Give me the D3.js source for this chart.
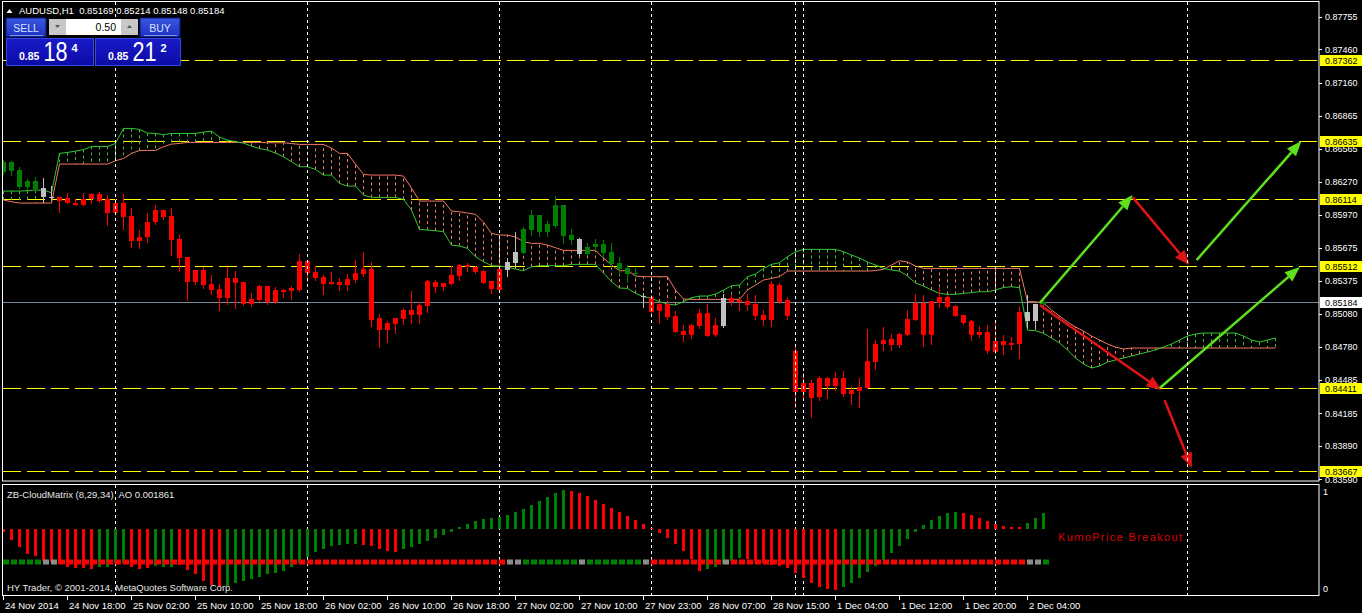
<!DOCTYPE html>
<html><head><meta charset="utf-8">
<script src="https://cdn.jsdelivr.net/npm/d3@7"></script>
<style>
html,body{margin:0;padding:0;background:#000;overflow:hidden}
svg{display:block}
text{font-family:'Liberation Sans',Arial,sans-serif}
</style></head><body>
<svg id="c" width="1362" height="613"></svg>
<script>
// ---------- DATA ----------
const symbolTitle = "AUDUSD,H1  0.85169 0.85214 0.85148 0.85184";
const indicatorTitle = "ZB-CloudMatrix (8,29,34)  AO 0.001861";
const copyrightText = "HY Trader, \u00A9 2001-2014, MetaQuotes Software Corp.";
const signalText = "KumoPrice Breakout";

const open = [0.86356,0.86365,0.86224,0.86224,0.86203,0.86209,0.86136,0.86131,0.86119,0.86077,0.86110,0.86158,0.86158,0.86110,0.86077,0.86077,0.85960,0.85774,0.85906,0.86014,0.86017,0.85960,0.85753,0.85591,0.85474,0.85474,0.85348,0.85303,0.85402,0.85402,0.85366,0.85213,0.85333,0.85330,0.85294,0.85294,0.85315,0.85555,0.85555,0.85456,0.85411,0.85366,0.85366,0.85393,0.85447,0.85483,0.85483,0.85042,0.84997,0.85042,0.85114,0.85114,0.85159,0.85375,0.85366,0.85357,0.85429,0.85519,0.85522,0.85501,0.85465,0.85375,0.85483,0.85477,0.85540,0.85630,0.85837,0.85819,0.85819,0.85873,0.86059,0.85789,0.85753,0.85621,0.85681,0.85708,0.85636,0.85537,0.85492,0.85447,0.85240,0.85231,0.85171,0.85168,0.85060,0.84925,0.84979,0.85087,0.85087,0.84979,0.84970,0.85222,0.85204,0.85195,0.85168,0.85069,0.85024,0.85339,0.85204,0.84745,0.84457,0.84457,0.84331,0.84502,0.84502,0.84502,0.84397,0.84421,0.84412,0.84649,0.84811,0.84799,0.84799,0.84889,0.85027,0.85177,0.84889,0.85177,0.85231,0.85150,0.85069,0.85015,0.84916,0.84916,0.84739,0.84835,0.84820,0.84811,0.85018,0.85018,0.85169];
const high = [0.86464,0.86458,0.86401,0.86290,0.86308,0.86299,0.86230,0.86131,0.86164,0.86110,0.86164,0.86170,0.86176,0.86149,0.86110,0.86158,0.86032,0.85834,0.85987,0.86056,0.86017,0.86032,0.85786,0.85591,0.85474,0.85504,0.85429,0.85348,0.85504,0.85465,0.85366,0.85264,0.85342,0.85330,0.85318,0.85300,0.85330,0.85618,0.85555,0.85510,0.85429,0.85456,0.85402,0.85438,0.85567,0.85636,0.85546,0.85078,0.85015,0.85042,0.85132,0.85285,0.85186,0.85384,0.85384,0.85357,0.85513,0.85528,0.85537,0.85510,0.85471,0.85375,0.85546,0.85582,0.85816,0.85858,0.86014,0.85969,0.85915,0.86140,0.86059,0.85843,0.85762,0.85717,0.85753,0.85744,0.85717,0.85594,0.85519,0.85492,0.85264,0.85231,0.85183,0.85189,0.85105,0.84979,0.84988,0.85123,0.85168,0.85042,0.85258,0.85258,0.85222,0.85258,0.85249,0.85114,0.85375,0.85357,0.85228,0.84799,0.84547,0.84484,0.84520,0.84511,0.84556,0.84565,0.84430,0.84502,0.84943,0.84844,0.84961,0.84898,0.84907,0.85117,0.85258,0.85249,0.85195,0.85312,0.85249,0.85159,0.85069,0.85027,0.84970,0.84979,0.85015,0.84889,0.84871,0.85141,0.85249,0.85168,0.85214];
const low = [0.86338,0.86329,0.86212,0.86206,0.86194,0.86089,0.86113,0.85999,0.86074,0.86062,0.86062,0.86080,0.86089,0.85879,0.85984,0.85843,0.85684,0.85675,0.85729,0.85888,0.85930,0.85609,0.85468,0.85204,0.85348,0.85315,0.85258,0.85114,0.85171,0.85135,0.85159,0.85153,0.85198,0.85171,0.85177,0.85231,0.85213,0.85288,0.85378,0.85384,0.85261,0.85351,0.85297,0.85297,0.85369,0.85423,0.84973,0.84784,0.84829,0.84910,0.84991,0.85000,0.85000,0.85099,0.85279,0.85297,0.85342,0.85387,0.85468,0.85447,0.85354,0.85270,0.85291,0.85423,0.85504,0.85624,0.85792,0.85783,0.85783,0.85864,0.85720,0.85711,0.85612,0.85612,0.85657,0.85594,0.85504,0.85438,0.85369,0.85414,0.85141,0.85075,0.85000,0.85033,0.84916,0.84838,0.84862,0.84952,0.84880,0.84880,0.84961,0.85159,0.85114,0.85114,0.85033,0.84979,0.84970,0.85177,0.85036,0.84244,0.84334,0.84154,0.84307,0.84325,0.84394,0.84343,0.84271,0.84244,0.84412,0.84586,0.84757,0.84757,0.84784,0.84889,0.85027,0.84793,0.84811,0.85141,0.85135,0.85063,0.84991,0.84847,0.84874,0.84730,0.84727,0.84721,0.84766,0.84685,0.84964,0.84955,0.85148];
const close = [0.86446,0.86449,0.86374,0.86275,0.86275,0.86134,0.86127,0.86095,0.86074,0.86062,0.86062,0.86110,0.86098,0.85989,0.85987,0.85954,0.85738,0.85738,0.85771,0.85909,0.85951,0.85747,0.85585,0.85369,0.85369,0.85342,0.85297,0.85225,0.85225,0.85357,0.85171,0.85171,0.85207,0.85189,0.85189,0.85276,0.85285,0.85294,0.85450,0.85405,0.85351,0.85351,0.85339,0.85339,0.85387,0.85438,0.85027,0.84937,0.84937,0.84991,0.85033,0.85072,0.85072,0.85153,0.85324,0.85324,0.85351,0.85423,0.85501,0.85456,0.85360,0.85306,0.85297,0.85546,0.85636,0.85843,0.85969,0.85969,0.85888,0.86059,0.85783,0.85747,0.85621,0.85681,0.85708,0.85630,0.85528,0.85483,0.85438,0.85438,0.85231,0.85099,0.85105,0.85051,0.84916,0.84889,0.84889,0.84970,0.84880,0.84889,0.85222,0.85189,0.85186,0.85159,0.85060,0.85024,0.85348,0.85186,0.85063,0.84379,0.84376,0.84325,0.84502,0.84430,0.84430,0.84361,0.84361,0.84388,0.84655,0.84808,0.84844,0.84853,0.84898,0.85033,0.85177,0.84889,0.85195,0.85231,0.85141,0.85063,0.85000,0.84892,0.84892,0.84748,0.84835,0.84802,0.84802,0.85096,0.85096,0.85168,0.85184];
// g = green, r = red, s = silver (cloud-matrix state per bar)
const candleState = ["g","g","g","g","g","s","s","r","r","r","r","r","r","r","r","r","r","r","r","r","r","r","r","r","r","r","r","r","r","r","r","r","r","r","r","r","r","r","r","r","r","r","r","r","r","r","r","r","r","r","r","r","r","r","r","r","r","r","r","r","r","r","r","s","s","g","g","g","g","g","g","g","s","g","g","g","g","g","g","g","s","r","r","r","r","r","r","r","r","r","s","r","r","r","r","r","r","r","r","r","r","r","r","r","r","r","r","r","r","r","r","r","r","r","r","r","r","r","r","r","r","r","r","r","r","r","r","r","s","s","g"];

const spanA = [0.86185,0.86185,0.86185,0.86189,0.86194,0.86194,0.86170,0.86524,0.86533,0.86545,0.86559,0.86587,0.86587,0.86587,0.86614,0.86749,0.86749,0.86740,0.86707,0.86704,0.86693,0.86704,0.86704,0.86704,0.86704,0.86716,0.86725,0.86671,0.86644,0.86629,0.86617,0.86590,0.86569,0.86554,0.86527,0.86494,0.86449,0.86404,0.86404,0.86380,0.86329,0.86329,0.86254,0.86230,0.86230,0.86149,0.86128,0.86128,0.86128,0.86128,0.86110,0.86014,0.85840,0.85834,0.85828,0.85819,0.85699,0.85690,0.85669,0.85594,0.85549,0.85513,0.85510,0.85501,0.85483,0.85468,0.85504,0.85513,0.85513,0.85513,0.85513,0.85525,0.85525,0.85525,0.85525,0.85447,0.85369,0.85312,0.85309,0.85264,0.85234,0.85219,0.85189,0.85168,0.85159,0.85189,0.85225,0.85240,0.85240,0.85258,0.85294,0.85333,0.85339,0.85414,0.85438,0.85489,0.85525,0.85540,0.85594,0.85639,0.85660,0.85660,0.85660,0.85660,0.85660,0.85639,0.85609,0.85582,0.85546,0.85519,0.85489,0.85474,0.85465,0.85420,0.85357,0.85330,0.85294,0.85264,0.85255,0.85255,0.85264,0.85271,0.85279,0.85279,0.85294,0.85317,0.85324,0.85315,0.84934,0.84928,0.84904,0.84862,0.84817,0.84754,0.84682,0.84628,0.84592,0.84610,0.84646,0.84664,0.84682,0.84700,0.84718,0.84736,0.84754,0.84781,0.84808,0.84844,0.84880,0.84898,0.84907,0.84907,0.84907,0.84907,0.84907,0.84880,0.84844,0.84826,0.84844,0.84862];
const spanB = [0.86104,0.86089,0.86077,0.86077,0.86077,0.86077,0.86077,0.86428,0.86428,0.86428,0.86428,0.86428,0.86428,0.86428,0.86458,0.86479,0.86524,0.86551,0.86551,0.86551,0.86584,0.86608,0.86614,0.86623,0.86623,0.86623,0.86623,0.86623,0.86623,0.86623,0.86623,0.86623,0.86623,0.86620,0.86620,0.86620,0.86613,0.86605,0.86605,0.86605,0.86605,0.86572,0.86524,0.86524,0.86428,0.86335,0.86329,0.86329,0.86329,0.86329,0.86320,0.86212,0.86095,0.86095,0.86095,0.86095,0.86005,0.85999,0.85987,0.85975,0.85906,0.85804,0.85789,0.85789,0.85771,0.85729,0.85714,0.85714,0.85699,0.85675,0.85651,0.85651,0.85651,0.85651,0.85651,0.85582,0.85519,0.85468,0.85468,0.85420,0.85414,0.85414,0.85414,0.85414,0.85294,0.85213,0.85210,0.85210,0.85210,0.85210,0.85210,0.85210,0.85210,0.85294,0.85339,0.85384,0.85399,0.85414,0.85465,0.85465,0.85465,0.85465,0.85465,0.85465,0.85465,0.85465,0.85465,0.85465,0.85465,0.85469,0.85480,0.85519,0.85558,0.85546,0.85510,0.85489,0.85489,0.85489,0.85489,0.85489,0.85489,0.85489,0.85489,0.85489,0.85489,0.85489,0.85489,0.85489,0.85189,0.85189,0.85177,0.85114,0.85060,0.85006,0.84961,0.84925,0.84880,0.84844,0.84808,0.84781,0.84763,0.84772,0.84772,0.84772,0.84772,0.84772,0.84772,0.84772,0.84772,0.84772,0.84772,0.84772,0.84772,0.84772,0.84772,0.84772,0.84772,0.84772,0.84772,0.84772];

const aoValues = [-0.00038,-0.00128,-0.00205,-0.00290,-0.00313,-0.00368,-0.00379,-0.00409,-0.00437,-0.00449,-0.00456,-0.00467,-0.00437,-0.00435,-0.00394,-0.00398,-0.00437,-0.00467,-0.00456,-0.00429,-0.00444,-0.00444,-0.00418,-0.00476,-0.00525,-0.00603,-0.00650,-0.00669,-0.00661,-0.00630,-0.00603,-0.00580,-0.00560,-0.00525,-0.00514,-0.00487,-0.00444,-0.00391,-0.00328,-0.00270,-0.00235,-0.00194,-0.00186,-0.00174,-0.00177,-0.00186,-0.00197,-0.00232,-0.00255,-0.00261,-0.00232,-0.00209,-0.00174,-0.00139,-0.00104,-0.00070,-0.00035,0.00023,0.00058,0.00093,0.00116,0.00128,0.00139,0.00162,0.00197,0.00232,0.00278,0.00325,0.00371,0.00418,0.00452,0.00441,0.00418,0.00383,0.00336,0.00290,0.00244,0.00197,0.00151,0.00104,0.00058,0.00012,-0.00046,-0.00104,-0.00174,-0.00255,-0.00348,-0.00487,-0.00464,-0.00441,-0.00406,-0.00371,-0.00336,-0.00348,-0.00371,-0.00394,-0.00418,-0.00429,-0.00452,-0.00510,-0.00568,-0.00626,-0.00673,-0.00696,-0.00708,-0.00673,-0.00626,-0.00568,-0.00499,-0.00429,-0.00360,-0.00278,-0.00197,-0.00116,-0.00035,0.00046,0.00104,0.00151,0.00186,0.00197,0.00186,0.00162,0.00128,0.00093,0.00058,0.00035,0.00023,0.00023,0.00070,0.00128,0.001861];
const aoColors = ["r","r","r","r","r","r","r","r","r","r","r","r","g","g","g","g","r","r","r","g","g","g","r","r","r","r","r","r","g","g","g","g","g","g","g","g","g","g","g","g","g","g","g","g","g","r","r","r","r","r","g","g","g","g","g","g","g","g","g","g","g","g","g","g","g","g","g","g","g","g","g","r","r","r","r","r","r","r","r","r","r","r","r","r","r","r","r","r","g","g","g","g","g","r","r","r","r","r","r","r","r","r","r","r","r","g","g","g","g","g","g","g","g","g","g","g","g","g","g","g","r","r","r","r","r","r","r","r","g","g","g"];

const timeLabelIndex = [0,8,16,24,32,40,48,56,64,72,80,88,96,104,112,120,128];
const timeLabels = ["24 Nov 2014","24 Nov 18:00","25 Nov 02:00","25 Nov 10:00","25 Nov 18:00","26 Nov 02:00","26 Nov 10:00","26 Nov 18:00","27 Nov 02:00","27 Nov 10:00","27 Nov 23:00","28 Nov 07:00","28 Nov 15:00","1 Dec 04:00","1 Dec 12:00","1 Dec 20:00","2 Dec 04:00"];
const priceTicks = [0.87755,0.87460,0.87160,0.86865,0.86565,0.86270,0.85970,0.85675,0.85375,0.85080,0.84780,0.84485,0.84185,0.83890,0.83590];
const levelLines = [0.87362,0.86635,0.86114,0.85512,0.84411,0.83667];
const currentPrice = 0.85184;
const daySeparators = [14,38,62,81,99,100,124,148];
// arrows: [index, price] start and end points
const arrowFrom = [[129.6,0.85177],[141.2,0.86131],[149.2,0.85564],[129.6,0.85159],[144.6,0.84412],[145.2,0.84304]];
const arrowTo   = [[141.2,0.86149],[148.3,0.85519],[162.3,0.86635],[144.8,0.84394],[162.1,0.85501],[148.6,0.83692]];
const arrowColor = ["g","r","g","r","g","r"];

// ---------- CHART ----------
const svg = d3.select('#c');
const x = d3.scaleLinear().domain([0,159]).range([3,1275]);
const y = d3.scaleLinear().domain([0.83590,0.87755]).range([479.3,16.7]);
const yAO = d3.scaleLinear().domain([-0.00710,0.00452]).range([590.2,490.2]);
const COL = {g:'#008000', r:'#ff0000', s:'#c0c0c0'};
const SIG = {g:'#008000', r:'#ff0000', s:'#8c8c8c'};
const fmt = d3.format('.5f');

svg.append('rect').attr('width',1362).attr('height',613).attr('fill','#000');

const defs = svg.append('defs');
defs.append('clipPath').attr('id','mainClip').append('rect').attr('x',3).attr('y',2).attr('width',1316).attr('height',479);
defs.append('clipPath').attr('id','indClip').append('rect').attr('x',3).attr('y',485).attr('width',1316).attr('height',111);

const main = svg.append('g').attr('clip-path','url(#mainClip)');

// day separators (main + indicator)
[[2,481],[485,596]].forEach(([a,b])=>{
  svg.append('g').selectAll('line').data(daySeparators).join('line')
    .attr('x1',d=>x(d)+0.5).attr('x2',d=>x(d)+0.5).attr('y1',a).attr('y2',b)
    .attr('stroke','#fff').attr('stroke-width',1).attr('stroke-dasharray','3,3');
});

// level lines
main.selectAll('line.lvl').data(levelLines).join('line').attr('class','lvl')
  .attr('x1',3).attr('x2',1319).attr('y1',d=>Math.round(y(d))+0.5).attr('y2',d=>Math.round(y(d))+0.5)
  .attr('stroke','#ffff00').attr('stroke-width',1).attr('stroke-dasharray','18,6');
// current price line
main.append('line').attr('x1',3).attr('x2',1319)
  .attr('y1',Math.round(y(currentPrice))+0.5).attr('y2',Math.round(y(currentPrice))+0.5)
  .attr('stroke','#778899');

// cloud hatch
const idx = d3.range(spanA.length);
main.selectAll('line.hatch').data(idx).join('line').attr('class','hatch')
  .attr('x1',i=>x(i)+0.5).attr('x2',i=>x(i)+0.5)
  .attr('y1',i=>y(spanA[i])).attr('y2',i=>y(spanB[i]))
  .attr('stroke',i=>spanA[i]>=spanB[i]?'#32c832':'#f5785f')
  .attr('stroke-dasharray','3,3');
// cloud lines
main.append('path').datum(idx).attr('fill','none').attr('stroke','#f5785f').attr('stroke-width',1)
  .attr('d',d3.line().x(i=>x(i)+0.5).y(i=>y(spanB[i])));
main.append('path').datum(idx).attr('fill','none').attr('stroke','#32c832').attr('stroke-width',1)
  .attr('d',d3.line().x(i=>x(i)+0.5).y(i=>y(spanA[i])));

// candles
const bars = d3.range(open.length).map(i=>({i,o:open[i],h:high[i],l:low[i],c:close[i],s:candleState[i]}));
main.selectAll('line.wick').data(bars).join('line').attr('class','wick')
  .attr('x1',d=>x(d.i)+0.5).attr('x2',d=>x(d.i)+0.5)
  .attr('y1',d=>Math.round(y(d.h))).attr('y2',d=>Math.round(y(d.l))+1)
  .attr('stroke',d=>COL[d.s]);
main.selectAll('rect.body').data(bars).join('rect').attr('class','body')
  .attr('x',d=>x(d.i)-2).attr('width',5)
  .attr('y',d=>Math.round(y(Math.max(d.o,d.c))))
  .attr('height',d=>Math.max(1,Math.round(y(Math.min(d.o,d.c)))-Math.round(y(Math.max(d.o,d.c)))))
  .attr('fill',d=>COL[d.s]);

// arrows
const AC = {g:'#5fe01c', r:'#e01414'};
arrowFrom.forEach((f,k)=>{
  const x1=x(f[0]), y1=y(f[1]), x2=x(arrowTo[k][0]), y2=y(arrowTo[k][1]);
  const dx=x2-x1, dy=y2-y1, L=Math.hypot(dx,dy), ux=dx/L, uy=dy/L;
  const hl=15, hw=6;
  const bx=x2-ux*hl, by=y2-uy*hl;
  main.append('line').attr('x1',x1).attr('y1',y1).attr('x2',bx).attr('y2',by)
    .attr('stroke',AC[arrowColor[k]]).attr('stroke-width',2.5);
  main.append('polygon').attr('points',[[x2,y2],[bx-uy*hw,by+ux*hw],[bx+uy*hw,by-ux*hw]].map(p=>p.join(',')).join(' '))
    .attr('fill',AC[arrowColor[k]]);
});

// indicator panel
const ind = svg.append('g').attr('clip-path','url(#indClip)');
ind.selectAll('rect.ao').data(aoValues.map((v,i)=>({i,v}))).join('rect').attr('class','ao')
  .attr('x',d=>x(d.i)-1).attr('width',3)
  .attr('y',d=>Math.round(yAO(Math.max(0,d.v))))
  .attr('height',d=>Math.max(1,Math.round(yAO(Math.min(0,d.v)))-Math.round(yAO(Math.max(0,d.v)))))
  .attr('fill',d=>COL[aoColors[d.i]]);
ind.selectAll('rect.sig').data(candleState.map((s,i)=>({i,s}))).join('rect').attr('class','sig')
  .attr('x',d=>x(d.i)).attr('width',6).attr('y',559.5).attr('height',5)
  .attr('fill',d=>SIG[d.s]);
ind.append('text').attr('x',1058).attr('y',541).attr('fill','#dd0000')
  .attr('font-family',"'Liberation Mono','DejaVu Sans Mono',monospace").attr('font-size',11)
  .attr('textLength',124).text(signalText);
svg.append('text').attr('x',7).attr('y',497.5).attr('fill','#e6e6e6').attr('font-size',9.5).style('white-space','pre').text(indicatorTitle);
svg.append('text').attr('x',7).attr('y',591).attr('fill','#e6e6e6').attr('font-size',9.5).text(copyrightText);

// borders
svg.append('rect').attr('x',2.5).attr('y',1.5).attr('width',1316.5).attr('height',479.5).attr('fill','none').attr('stroke','#fff');
svg.append('rect').attr('x',2.5).attr('y',484.5).attr('width',1316.5).attr('height',111).attr('fill','none').attr('stroke','#fff');

// right price axis
const ax = svg.append('g');
ax.selectAll('line.pt').data(priceTicks).join('line')
  .attr('x1',1319).attr('x2',1322).attr('y1',d=>Math.round(y(d))+0.5).attr('y2',d=>Math.round(y(d))+0.5).attr('stroke','#fff');
ax.selectAll('text.pt').data(priceTicks).join('text')
  .attr('x',1325).attr('y',d=>y(d)+3.3).attr('fill','#fff').attr('font-size',9).text(d=>fmt(d));
const hl = levelLines.map(v=>({v,c:'#ffff00'})).concat([{v:currentPrice,c:'#ffffff'}]);
ax.selectAll('rect.hl').data(hl).join('rect')
  .attr('x',1320).attr('width',42).attr('y',d=>Math.round(y(d.v))-5).attr('height',11).attr('fill',d=>d.c);
ax.selectAll('text.hl').data(hl).join('text')
  .attr('x',1325).attr('y',d=>Math.round(y(d.v))+4).attr('fill','#000').attr('font-size',9).text(d=>fmt(d.v));
svg.append('text').attr('x',1323).attr('y',495.3).attr('fill','#fff').attr('font-size',9).text('1');
svg.append('text').attr('x',1323).attr('y',591.7).attr('fill','#fff').attr('font-size',9).text('0');

// bottom time axis
const tx = svg.append('g');
tx.selectAll('line').data(timeLabelIndex).join('line')
  .attr('x1',d=>x(d)+0.5).attr('x2',d=>x(d)+0.5).attr('y1',596).attr('y2',600).attr('stroke','#fff');
tx.selectAll('text').data(timeLabelIndex).join('text')
  .attr('x',d=>x(d)+2).attr('y',608.5).attr('fill','#fff').attr('font-size',9.5).text((d,k)=>timeLabels[k]);

// header
svg.append('path').attr('d','M6.5,13 L9.5,9 L12.5,13 Z').attr('fill','#fff');
svg.append('text').attr('x',19).attr('y',14).attr('fill','#fff').attr('font-size',9.5).style('white-space','pre').text(symbolTitle);

// trading panel
const tp = svg.append('g');
const grad = defs.append('linearGradient').attr('id','btn').attr('x1',0).attr('y1',0).attr('x2',0).attr('y2',1);
grad.append('stop').attr('offset','0%').attr('stop-color','#3a58e0');
grad.append('stop').attr('offset','100%').attr('stop-color','#1c30c0');
const grad2 = defs.append('linearGradient').attr('id','box').attr('x1',0).attr('y1',0).attr('x2',0).attr('y2',1);
grad2.append('stop').attr('offset','0%').attr('stop-color','#1a1ac8');
grad2.append('stop').attr('offset','100%').attr('stop-color','#0c0ca8');
[[6,'SELL'],[140,'BUY']].forEach(([bx,t])=>{
  tp.append('rect').attr('x',bx).attr('y',18).attr('width',40).attr('height',19).attr('fill','url(#btn)').attr('stroke','#0a1480');
  tp.append('line').attr('x1',bx+4).attr('x2',bx+37).attr('y1',35.5).attr('y2',35.5).attr('stroke','#7f95f0');
  tp.append('text').attr('x',bx+20).attr('y',31.5).attr('text-anchor','middle').attr('fill','#d8e2ff').attr('font-size',10.5).text(t);
});
tp.append('rect').attr('x',49).attr('y',19).attr('width',17).attr('height',16).attr('fill','#c8c8c8');
tp.append('rect').attr('x',121).attr('y',19).attr('width',17).attr('height',16).attr('fill','#c8c8c8');
tp.append('rect').attr('x',66).attr('y',19).attr('width',55).attr('height',16).attr('fill','#fff');
tp.append('path').attr('d','M55,25 L60,25 L57.5,28 Z').attr('fill','#556');
tp.append('path').attr('d','M127,28 L132,28 L129.5,25 Z').attr('fill','#556');
tp.append('text').attr('x',116).attr('y',31).attr('text-anchor','end').attr('fill','#000').attr('font-size',10.5).text('0.50');
[[6,87,'18','4'],[95,85,'21','2']].forEach(([bx,w,big,sup])=>{
  tp.append('rect').attr('x',bx+0.5).attr('y',38.5).attr('width',w).attr('height',27).attr('fill','url(#box)').attr('stroke','#3048e0');
  tp.append('text').attr('x',bx+13).attr('y',59.5).attr('fill','#fff').attr('font-size',10.5).attr('font-weight','bold').text('0.85');
  tp.append('text').attr('transform',`translate(${bx+37.5},60.5) scale(0.8,1)`).attr('fill','#fff').attr('font-size',27).text(big);
  tp.append('text').attr('x',bx+65.5).attr('y',52).attr('fill','#fff').attr('font-size',11).attr('font-weight','bold').text(sup);
});
</script>
</body></html>
